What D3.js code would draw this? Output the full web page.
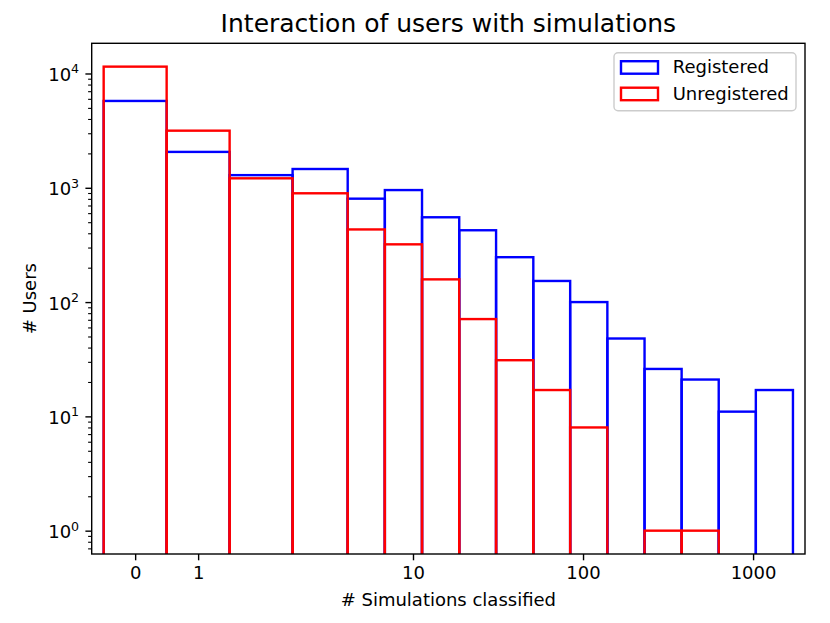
<!DOCTYPE html>
<html>
<head>
<meta charset="utf-8">
<script src="https://cdn.jsdelivr.net/npm/d3@7"></script>
<style>
  body { margin: 0; background: #fff; }
  svg { display: block; font-family: "DejaVu Sans", sans-serif; }
</style>
</head>
<body>
<svg id="chart" width="830" height="623"></svg>
<script>
// histogram bin edges (# simulations classified)
const binEdges = [-0.5, 0.5, 1.5, 2.5, 4.13, 6.83, 11.3, 18.7, 30.8, 51, 84, 139, 230, 380, 628, 1038, 1716];
// counts per bin
const registered   = [5750, 2060, 1290, 1460, 803, 955, 552, 425, 247, 153, 100, 48, 26, 21, 11, 17];
const unregistered = [11480, 3160, 1210, 895, 432, 320, 158, 71, 31, 17, 8, 0, 1, 1, 0, 0];
const xTickValues = [0, 1, 10, 100, 1000];
const yMajorTicks = [1, 10, 100, 1000, 10000];
const seriesNames = ["Registered", "Unregistered"];
const seriesColors = ["#0000ff", "#ff0000"];

const width = 830, height = 623;
const margin = {top: 43.3, right: 25, bottom: 69, left: 91.7};

// matplotlib-style symlog (linthresh 3, linscale 1)
const LINTHRESH = 3;
const LINSCALE_ADJ = 1 / (1 - 1 / 10);
function symlogT(v) {
    const a = Math.abs(v);
    if (a <= LINTHRESH) return v * LINSCALE_ADJ;
    return Math.sign(v) * LINTHRESH * (LINSCALE_ADJ + Math.log10(a / LINTHRESH));
}

const xLin = d3.scaleLinear()
    .domain([symlogT(-0.69), symlogT(2020)])
    .range([margin.left, width - margin.right]);
const x = v => xLin(symlogT(v));

const y = d3.scaleLog()
    .domain([0.625, 18370])
    .range([height - margin.bottom, margin.top]);

const svg = d3.select("#chart");

svg.append("clipPath").attr("id", "plotclip")
    .append("rect")
    .attr("x", margin.left).attr("y", margin.top)
    .attr("width", width - margin.left - margin.right)
    .attr("height", height - margin.top - margin.bottom);

// unfilled bars, one outline per bin; bottom runs below the axes and is clipped
const plot = svg.append("g").attr("clip-path", "url(#plotclip)");
const yBase = y.range()[0] + 10;
[registered, unregistered].forEach((counts, s) => {
    const bins = counts.map((c, i) => ({x0: binEdges[i], x1: binEdges[i + 1], c: c}))
        .filter(d => d.c > 0);
    plot.append("g").selectAll("rect").data(bins).enter()
        .append("rect")
            .attr("x", d => x(d.x0))
            .attr("y", d => y(d.c))
            .attr("width", d => x(d.x1) - x(d.x0))
            .attr("height", d => yBase - y(d.c))
            .attr("fill", "none")
            .attr("stroke", seriesColors[s])
            .attr("stroke-width", 2.4);
});

// y axis, minor ticks
const yMinor = [];
for (let e = -1; e <= 4; e++) {
    for (let m = 2; m <= 9; m++) {
        const v = m * Math.pow(10, e);
        if (v >= y.domain()[0] && v <= y.domain()[1]) yMinor.push(v);
    }
}
const yMinorAxis = svg.append("g")
    .attr("transform", `translate(${margin.left},0)`)
    .call(d3.axisLeft(y).tickValues(yMinor).tickSize(3.6).tickFormat(""));
yMinorAxis.select(".domain").remove();
yMinorAxis.selectAll("line").attr("stroke-width", 1.1);

const yAxis = svg.append("g")
    .attr("transform", `translate(${margin.left},0)`)
    .call(d3.axisLeft(y).tickValues(yMajorTicks).tickSize(6.3).tickPadding(6.3).tickFormat(""));
yAxis.select(".domain").remove();
yAxis.selectAll("line").attr("stroke-width", 1.4);
yAxis.selectAll("text")
    .attr("font-size", 18)
    .attr("font-family", "DejaVu Sans")
    .attr("fill", "#000")
    .attr("dy", 7)
    .each(function(d) {
        const t = d3.select(this);
        t.append("tspan").text("10");
        t.append("tspan").attr("font-size", 12.6).attr("dy", -7.5).text(Math.round(Math.log10(d)));
    });

// x axis
const xAxis = svg.append("g")
    .attr("transform", `translate(0,${height - margin.bottom})`)
    .call(d3.axisBottom(xLin)
        .tickValues(xTickValues.map(symlogT))
        .tickSize(6.3).tickPadding(6.3)
        .tickFormat((d, i) => String(xTickValues[i])));
xAxis.select(".domain").remove();
xAxis.selectAll("line").attr("stroke-width", 1.4);
xAxis.selectAll("text")
    .attr("font-size", 18)
    .attr("font-family", "DejaVu Sans")
    .attr("fill", "#000");

// frame
svg.append("rect")
    .attr("x", margin.left).attr("y", margin.top)
    .attr("width", width - margin.left - margin.right)
    .attr("height", height - margin.top - margin.bottom)
    .attr("fill", "none")
    .attr("stroke", "#000")
    .attr("stroke-width", 1.4);

// labels
svg.append("text")
    .attr("x", (margin.left + width - margin.right) / 2)
    .attr("y", 31.7)
    .attr("text-anchor", "middle")
    .attr("font-size", 25)
    .text("Interaction of users with simulations");

svg.append("text")
    .attr("x", (margin.left + width - margin.right) / 2)
    .attr("y", 605.5)
    .attr("text-anchor", "middle")
    .attr("font-size", 18)
    .text("# Simulations classified");

svg.append("text")
    .attr("transform", `translate(36,${(margin.top + height - margin.bottom) / 2}) rotate(-90)`)
    .attr("text-anchor", "middle")
    .attr("font-size", 18)
    .text("# Users");

// legend
const legend = svg.append("g").attr("transform", "translate(614,52.7)");
legend.append("rect")
    .attr("width", 182).attr("height", 58)
    .attr("rx", 4).attr("ry", 4)
    .attr("fill", "#fff").attr("fill-opacity", 0.8)
    .attr("stroke", "#cccccc").attr("stroke-width", 1.4);
seriesNames.forEach((name, i) => {
    const g = legend.append("g").attr("transform", `translate(0,${i * 26.5})`);
    g.append("rect")
        .attr("x", 7).attr("y", 8.5)
        .attr("width", 37).attr("height", 12.5)
        .attr("fill", "none")
        .attr("stroke", seriesColors[i])
        .attr("stroke-width", 2.4);
    g.append("text")
        .attr("x", 58.7).attr("y", 20.6)
        .attr("font-size", 18)
        .text(name);
});
</script>
</body>
</html>
